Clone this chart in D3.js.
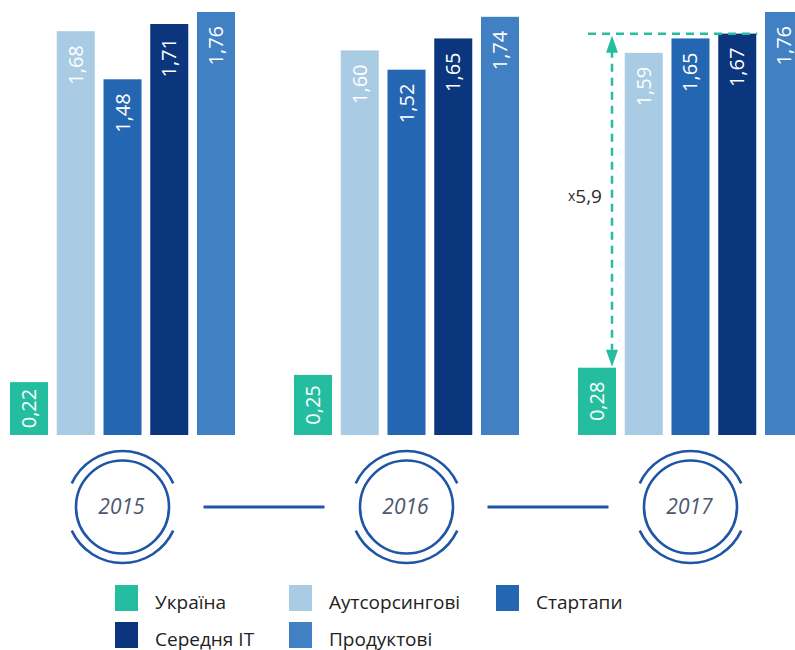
<!DOCTYPE html>
<html>
<head>
<meta charset="utf-8">
<script src="https://cdn.jsdelivr.net/npm/d3@7"></script>
<style>
  html, body { margin: 0; padding: 0; background: #fff; }
  svg { display: block; font-family: "Open Sans", "Noto Sans", sans-serif; }
</style>
</head>
<body>
<svg id="chart" width="795" height="650"></svg>
<script>
const years = ["2015", "2016", "2017"];
const series = ["Україна", "Аутсорсингові", "Стартапи", "Середня IT", "Продуктові"];
const colors = ["#25bd9f", "#a9cbe3", "#2566b3", "#0b357c", "#4180c3"];
const values = {
  "2015": [0.22, 1.68, 1.48, 1.71, 1.76],
  "2016": [0.25, 1.60, 1.52, 1.65, 1.74],
  "2017": [0.28, 1.59, 1.65, 1.67, 1.76]
};
const multiplierLabel = "5,9";

const svg = d3.select("#chart");
const fmt = v => d3.format(".2f")(v).replace(".", ",");

const x0 = d3.scaleBand().domain(years).range([10, 803]).paddingInner(0.2077).paddingOuter(0);
const x1 = d3.scaleBand().domain(series).range([0, x0.bandwidth()]).paddingInner(0.187).paddingOuter(0);
const y = d3.scaleLinear().domain([0, 1.76]).range([435, 12]);
const color = d3.scaleOrdinal().domain(series).range(colors);

const rows = years.flatMap(yr => series.map((s, i) => ({ year: yr, series: s, value: values[yr][i] })));

// bars
svg.append("g").selectAll("rect").data(rows).join("rect")
  .attr("x", d => x0(d.year) + x1(d.series))
  .attr("y", d => y(d.value))
  .attr("width", x1.bandwidth())
  .attr("height", d => y(0) - y(d.value))
  .attr("fill", d => color(d.series));

// value labels
svg.append("g").selectAll("text").data(rows).join("text")
  .attr("transform", d => {
    const cx = x0(d.year) + x1(d.series) + x1.bandwidth() / 2;
    const cy = d.series === series[0] ? (y(d.value) + y(0)) / 2 : y(d.value) + 14;
    return `translate(${cx},${cy}) rotate(-90)`;
  })
  .attr("text-anchor", d => d.series === series[0] ? "middle" : "end")
  .attr("dy", "0.35em")
  .attr("fill", "#fff")
  .attr("font-size", 20)
  .text(d => fmt(d.value));

// annotation on 2017
const annYear = "2017";
const annTop = values[annYear][3];
const annBottom = values[annYear][0];
const green = colors[0];
const ax = x0(annYear) + x1(series[0]) + 34;
const ann = svg.append("g");
ann.append("line")
  .attr("x1", x0(annYear) + x1(series[0]) + 10)
  .attr("x2", x0(annYear) + x1(series[3]) + x1.bandwidth() + 1)
  .attr("y1", y(annTop)).attr("y2", y(annTop))
  .attr("stroke", green).attr("stroke-width", 2.5).attr("stroke-dasharray", "8,6");
ann.append("line")
  .attr("x1", ax).attr("x2", ax)
  .attr("y1", y(annTop) + 16).attr("y2", y(annBottom) - 18)
  .attr("stroke", green).attr("stroke-width", 2.5).attr("stroke-dasharray", "8,6");
const ty = y(annTop) + 2, by = y(annBottom) - 1;
ann.append("path")
  .attr("d", `M${ax},${ty} L${ax - 6},${ty + 17} L${ax + 6},${ty + 17} Z`)
  .attr("fill", green);
ann.append("path")
  .attr("d", `M${ax},${by} L${ax - 6},${by - 17} L${ax + 6},${by - 17} Z`)
  .attr("fill", green);
const at = ann.append("text")
  .attr("x", ax - 10).attr("y", 203)
  .attr("text-anchor", "end")
  .attr("fill", "#2b2b2b");
at.append("tspan").attr("font-size", 14).attr("dy", -2).text("x");
at.append("tspan").attr("font-size", 19).attr("dy", 2).text(multiplierLabel);

// year circles
const cy0 = 507;
const blue = "#1f55a5";
const yg = svg.append("g");
years.forEach((yr, i) => {
  const cx = x0(yr) + x0.bandwidth() / 2;
  yg.append("circle").attr("cx", cx).attr("cy", cy0).attr("r", 46.5)
    .attr("fill", "none").attr("stroke", blue).attr("stroke-width", 2.6);
  const a = 65 * Math.PI / 180;
  [[-a, a], [Math.PI - a, Math.PI + a]].forEach(([s, e]) => {
    yg.append("path")
      .attr("d", d3.arc().innerRadius(56).outerRadius(56).startAngle(s).endAngle(e)())
      .attr("transform", `translate(${cx},${cy0})`)
      .attr("fill", "none").attr("stroke", blue).attr("stroke-width", 2.6);
  });
  yg.append("text").attr("x", cx - 1).attr("y", cy0).attr("dy", "0.35em")
    .attr("text-anchor", "middle").attr("font-style", "italic")
    .attr("font-size", 21).attr("fill", "#4b5870").text(yr);
  if (i < years.length - 1) {
    const nx = x0(years[i + 1]) + x0.bandwidth() / 2;
    yg.append("line").attr("x1", cx + 81).attr("x2", nx - 82)
      .attr("y1", cy0).attr("y2", cy0)
      .attr("stroke", blue).attr("stroke-width", 3);
  }
});

// legend
const legendCols = [115, 289, 496];
const legendRows = [585, 622];
const lg = svg.append("g");
series.forEach((s, i) => {
  const lx = legendCols[i % 3], ly = legendRows[Math.floor(i / 3)];
  lg.append("rect").attr("x", lx).attr("y", ly).attr("width", 23).attr("height", 26)
    .attr("fill", color(s));
  lg.append("text").attr("x", lx + 40).attr("y", ly + 24)
    .attr("font-size", 19).attr("fill", "#222").text(s);
});
</script>
</body>
</html>
